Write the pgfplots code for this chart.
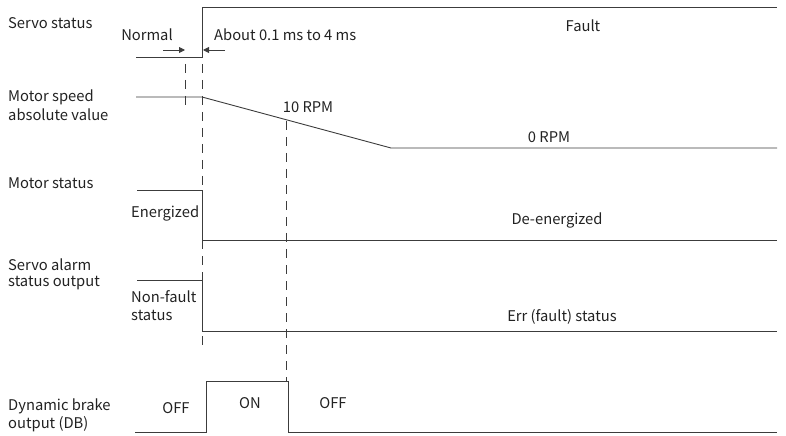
\documentclass[border=0pt]{standalone}
\usepackage{pgfplots}
\pgfplotsset{compat=1.18}
\usepackage{fontspec}
\setmainfont{Noto Sans CJK SC}
\usetikzlibrary{arrows.meta}
\definecolor{ln}{HTML}{3C3C3C}
\definecolor{tx}{HTML}{222222}
\begin{document}
\begin{tikzpicture}
\begin{axis}[x=1bp, y=1bp, y dir=reverse,
  xmin=0, xmax=786, ymin=0, ymax=436,
  axis lines=none, clip=false, scale only axis,
  pl/.style={ln, line width=0.9bp, mark=none},
  nodes={text=tx, font=\fontsize{14.8}{17.5}\selectfont, inner sep=0pt}]
\path (axis cs:0,0) (axis cs:786,436);
% Servo status
\addplot[pl] coordinates {(136,57) (202,57) (202,7) (777,7)};
% Motor speed
\addplot[pl] coordinates {(136,97) (202,97) (391,148) (777,148)};
% Motor status
\addplot[pl] coordinates {(137,190) (202,190) (202,240) (777,240)};
% Servo alarm
\addplot[pl] coordinates {(137,280) (202,280) (202,331) (777,331)};
% Dynamic brake
\addplot[pl] coordinates {(135,432) (206,432) (206,381) (288,381) (288,432) (777,432)};
% dashed guides
\addplot[pl, dash pattern=on 9bp off 7bp] coordinates {(185,64) (185,112)};
\addplot[pl, dash pattern=on 9bp off 7bp] coordinates {(202,64) (202,345)};
\addplot[pl, dash pattern=on 9bp off 7bp] coordinates {(286,121) (286,381)};
% arrows
\addplot[pl, -{Triangle[length=6bp,width=6bp]}] coordinates {(163,50) (185,50)};
\addplot[pl, -{Triangle[length=6bp,width=6bp]}] coordinates {(225,50) (203,50)};
% labels
\node[anchor=west] at (axis cs:8,23) {Servo status};
\node at (axis cs:147,35) {Normal};
\node[anchor=west] at (axis cs:214,35) {About 0.1 ms to 4 ms};
\node at (axis cs:583,26) {Fault};
\node[anchor=west] at (axis cs:8,97) {Motor speed};
\node[anchor=west] at (axis cs:8,115) {absolute value};
\node at (axis cs:308,107) {10 RPM};
\node at (axis cs:549,137) {0 RPM};
\node[anchor=west] at (axis cs:8,183) {Motor status};
\node[anchor=west] at (axis cs:131,213) {Energized};
\node at (axis cs:557,220) {De-energized};
\node[anchor=west] at (axis cs:8,265) {Servo alarm};
\node[anchor=west] at (axis cs:8,283) {status output};
\node[anchor=west] at (axis cs:131,297) {Non-fault};
\node[anchor=west] at (axis cs:131,315) {status};
\node at (axis cs:562,317) {Err (fault) status};
\node[anchor=west] at (axis cs:8,406) {Dynamic brake};
\node[anchor=west] at (axis cs:8,424) {output (DB)};
\node at (axis cs:176,408) {OFF};
\node at (axis cs:250,403) {ON};
\node at (axis cs:333,403) {OFF};
\end{axis}
\end{tikzpicture}
\end{document}
